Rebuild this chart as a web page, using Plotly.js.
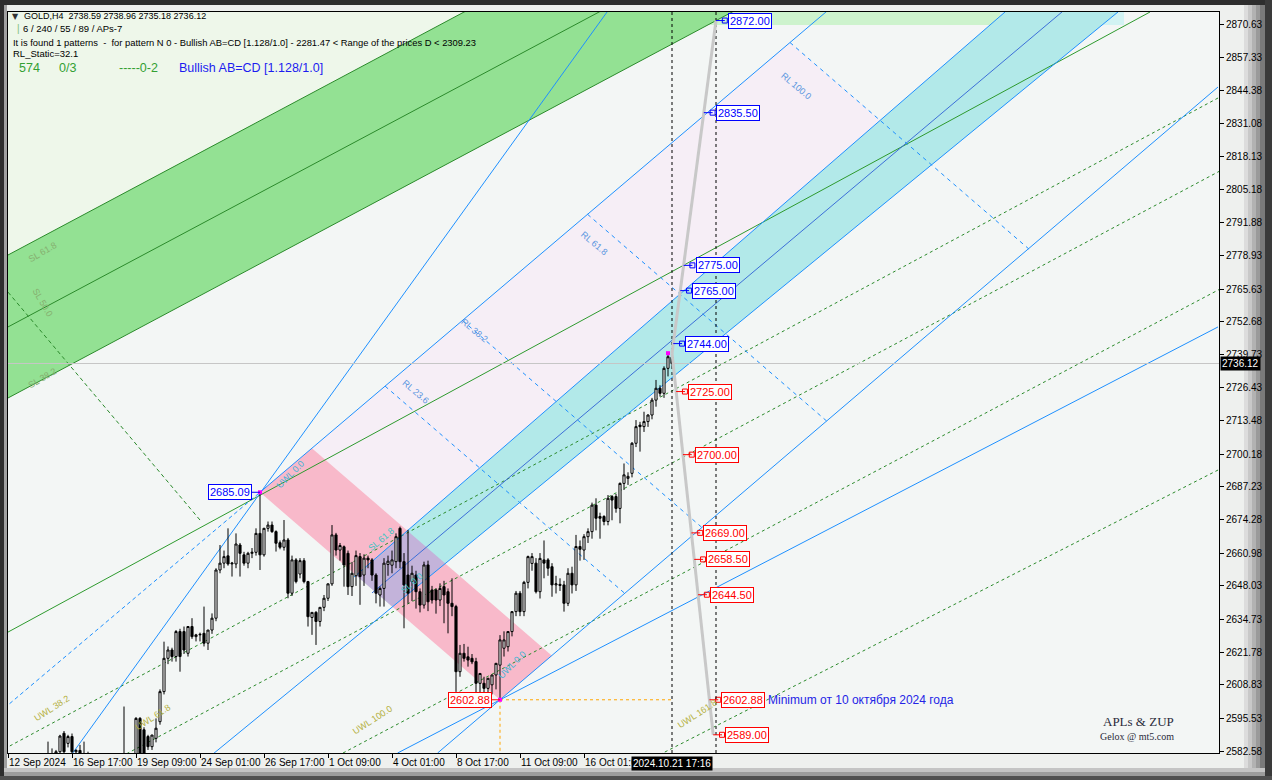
<!DOCTYPE html>
<html><head><meta charset="utf-8">
<script src="https://cdn.plot.ly/plotly-3.0.1.min.js"></script>
<style>html,body{margin:0;padding:0;background:#e9ebe9;overflow:hidden}#chart{width:1272px;height:780px}</style>
</head><body><div id="chart"></div>
<script>
// ---------------- DATA ----------------
const openP=[2512,2516,2522,2528,2540,2552,2558,2562,2570,2575,2578,2580,2581.5,2582.3,2589.6,2585.6,2588.3,2582.3,2582.8,2581.5,2580,2578,2570,2572,2568,2570,2575,2572,2576,2574,2560,2568,2578,2595.5,2591,2588.3,2584.3,2587.6,2594.2,2606.1,2619.3,2622.6,2620,2629.9,2629.9,2621.3,2631.9,2627.9,2628.6,2629.2,2625.3,2630.5,2635.2,2654.3,2657,2659.9,2656.7,2656.7,2664.2,2660.3,2657,2660.9,2661.3,2668.8,2660.3,2670.8,2672.1,2669.5,2665.1,2663.3,2666.2,2645.1,2658.3,2652.7,2658,2649.7,2635.5,2637.5,2633.9,2639.5,2643.1,2648.8,2668.2,2662.2,2663.5,2660.9,2647.7,2652,2659.6,2652.3,2659,2658.3,2652.3,2644.4,2647,2656.5,2656.2,2657.6,2670.8,2657.6,2652.3,2649.7,2652.3,2645.7,2640.4,2656.3,2646.4,2646.4,2642.4,2647.7,2645.7,2641.1,2639.8,2614,2621.3,2619.9,2619.3,2618,2609.4,2609.4,2607.4,2608.8,2612.7,2616.6,2623.3,2623.9,2629.9,2637.8,2645.1,2637.8,2649.4,2656.9,2657,2645.7,2658.3,2658.3,2655.6,2648.4,2648.6,2648.4,2641.1,2653,2648.4,2663.6,2662.2,2667.5,2669.5,2680,2675.5,2675.5,2673.5,2683.4,2683.4,2678.7,2688.6,2690.6,2692.6,2704.5,2711.7,2711.1,2713.1,2715.7,2721.6,2726.3,2724.3,2734.2,2738.59];
const highP=[2520,2525,2530,2545,2556,2560,2566,2572,2578,2580,2586.3,2583.6,2583,2589,2590.5,2589,2589.5,2583.3,2585,2586.3,2582.3,2580,2576,2578,2574,2578,2580,2579,2580,2600.2,2572,2580,2596,2596,2592,2589,2589,2595.5,2607,2625.9,2624,2623.5,2630.5,2631,2631.9,2632,2635.2,2629,2629.5,2639.8,2630.5,2637.1,2655,2664.2,2662,2670.8,2657.5,2668.8,2665,2661.5,2661.5,2663,2670.8,2685.09,2671,2673.5,2673.5,2670,2666,2674.1,2667,2660,2659,2659,2659,2650,2637.5,2638,2639.5,2644.4,2649,2672.1,2669,2665,2664,2662,2657.5,2662,2661,2660.5,2660,2659,2653,2647.8,2659,2660,2662,2668.8,2671.5,2661,2670.2,2656,2654,2647,2657.6,2658,2648,2647,2649,2650,2647,2651,2640.5,2624.6,2625,2623.9,2621,2619.5,2613.5,2612,2611.5,2612.7,2617.5,2628.5,2630,2630,2638,2646,2646,2650,2660,2661,2659,2661,2666,2659,2657,2652,2651,2650,2655,2655.6,2668.2,2666,2668.5,2670.8,2681,2682.7,2677,2676,2684,2684,2684.5,2689,2696.5,2693,2705,2713.7,2713,2717,2716,2722.5,2729.6,2727.5,2735,2740.2,2738.96];
const lowP=[2508,2512,2518,2525,2538,2548,2554,2560,2566,2570,2576,2577,2578,2580,2581,2584,2580,2580,2579,2578,2575,2565,2562,2566,2560,2566,2568,2565,2568,2546,2556,2565,2576,2580,2578,2583,2583,2586,2593,2605,2617,2618,2618,2614,2621,2620,2627,2626,2626,2624,2622.6,2629,2634,2653,2655,2656,2651.7,2655,2651.7,2656,2655,2659,2660,2654.3,2659.6,2669.5,2669,2661.6,2662.5,2662,2643.1,2644,2649,2651,2649,2631.9,2628.6,2624.6,2631.9,2638,2642,2648,2660,2658,2647.7,2644.4,2644,2648,2640.5,2648,2655,2650,2641.1,2639.8,2639.8,2652,2653,2655,2655,2631.2,2641,2642,2639,2637.5,2639,2638,2641,2637,2640,2633.2,2629.2,2636,2606,2612,2618,2616,2617,2604,2605.4,2604,2604,2605,2607,2602.88,2620,2622,2628,2636,2636,2636,2647,2654,2645,2643,2651,2652,2643.7,2645,2646,2637.8,2640,2645,2646,2658,2658.3,2665,2666.7,2670,2666.7,2672,2672,2674,2677,2672.8,2686,2688,2691,2703,2701.2,2709,2711,2714,2719,2723,2722.5,2731,2735.18];
const closeP=[2516,2522,2528,2540,2552,2558,2562,2570,2575,2578,2580,2581.5,2582.3,2588.5,2582.3,2588.3,2582.3,2582.8,2581.5,2580,2578,2570,2572,2568,2570,2575,2572,2576,2574,2560,2568,2578,2595.5,2581,2580,2584.3,2588.9,2591.6,2606.1,2619.3,2622.6,2620,2629.9,2620,2622.6,2631.9,2627.9,2628.6,2628.8,2625.3,2630.5,2635.2,2654.3,2657,2659.6,2656.7,2657,2664.6,2660.9,2657,2660.9,2661.3,2668.8,2660.3,2670.8,2672.1,2669.5,2664.9,2663.3,2666.2,2645.1,2658.3,2649.7,2658,2649.7,2635.8,2637.5,2633.9,2639.5,2643.1,2648.8,2668.2,2662.2,2664,2656.3,2647.7,2653,2660,2651.7,2659,2658.3,2652.3,2645.1,2647,2657,2657.8,2658.3,2667.5,2657.6,2648.4,2645.1,2653,2645.7,2640.4,2656.3,2641.7,2642.4,2642.4,2647,2644.4,2641.1,2639.8,2614,2621.3,2619.3,2618.6,2617.9,2609.4,2613.3,2607.4,2611.4,2612.7,2617.3,2626.6,2626.6,2629.9,2637.8,2645.1,2637.8,2649.4,2659.6,2659.6,2645.7,2658.9,2657,2655,2648.4,2648.8,2648.2,2641.1,2653,2648.4,2663.6,2662.5,2667.5,2669.5,2680,2674.8,2674.8,2673.5,2682.7,2682,2678.7,2688.6,2692,2691.4,2704.5,2711.1,2711.1,2713.1,2715.7,2721.6,2726.3,2724.3,2734.2,2738.8,2736.12];

const xTickIdx=[0,16,32,48,64,80,96,112,128,144];
const xTickText=['12 Sep 2024','16 Sep 17:00','19 Sep 09:00','24 Sep 01:00','26 Sep 17:00','1 Oct 09:00','4 Oct 01:00','8 Oct 17:00','11 Oct 09:00','16 Oct 01:00'];
const yTickVals=[2870.63,2857.33,2844.38,2831.08,2818.13,2805.18,2791.88,2778.93,2765.63,2752.68,2739.73,2726.43,2713.48,2700.18,2687.23,2674.28,2660.98,2648.03,2634.73,2621.78,2608.83,2595.53,2582.58];

const nowIdx=166, nowLabel='2024.10.21 17:16';
const targetIdx=177;
const projStart=[166,2740.2];
const projUpEnd=[177,2872.00];
const projDownEnd=[176.3,2589.00];
const levelPrices=[2872.00,2835.50,2775.00,2765.00,2744.00,2725.00,2700.00,2669.00,2658.50,2644.50,2602.88,2589.00];
const pivotHigh=[63,2685.09], pivotLow=[123,2602.88];
const lastHigh=[165,2740.2];
const bidPrice=2736.12;
const rlEnd=[195.5,2863.3];          // RL 100 point on the RL axis
const rlLevels=[23.6,38.2,61.8,100];
const pinkTopLevel=9.8;

// channel / trend lines  [idx0, price0, idx1, price1]
const greenUpper=[0,2779.1,200,2948.0];
const greenMid=[0,2750.6,200,2919.5];
const greenLower=[0,2722.45,200,2891.4];
const greenThin=[0,2629.7,285.5,2875.39];
const greenDashDiag=[0,2764.4,48,2674.1];
const uwlLines=[[0,2584.2,302.5,2841.3],[30.5,2582.2,302.5,2812.0],[84.25,2582.2,302.5,2765.2],[164.25,2582.2,302.5,2693.9]];
const cyanUpper=[86.5,2651.5,249.25,2875.39];
const cyanMid=[91,2645.2,263.5,2875.4];
const cyanLower=[95.5,2638.9,277.5,2875.4];
const blueSteep=[10,2568.2,155,2886.9];
const blueLowA=[97.4,2581.78,302.5,2750.6];
const blueLowB=[107.4,2581.78,302.5,2845.67];
const blueDashLeft=[0,2600.8,63,2685.09];
const topStripGreen=[114.5,248];    // bar range of the light strip along the top edge
const topStripCyan=[248,279];

// ---------------- HELPERS ----------------
const L=8,T=12,W=1211,H=741;
const PX=px=>(px-L)/W, PY=py=>(T+H-py)/H;
function slope(l){return (l[3]-l[1])/(l[2]-l[0]);}
function inter(a,b){const s1=slope(a),s2=slope(b),c1=a[1]-s1*a[0],c2=b[1]-s2*b[0];const x=(c2-c1)/(s1-s2);return [x,s1*x+c1];}
function path(pts){return 'M'+pts.map(p=>p[0]+','+p[1]).join('L')+'Z';}
function poly(pts,color){return {type:'path',xref:'x',yref:'y',path:path(pts),fillcolor:color,line:{width:0},layer:'below'};}
function ln(l,color,dash,width,layer){return {type:'line',xref:'x',yref:'y',x0:l[0],y0:l[1],x1:l[2],y1:l[3],line:{color:color,width:width||1,dash:dash||'solid'},layer:layer||'below'};}
function ext(l,t0,t1){const dx=l[2]-l[0],dy=l[3]-l[1];return [l[0]+dx*t0,l[1]+dy*t0,l[0]+dx*t1,l[1]+dy*t1];}
function prect(x0,y0,x1,y1,c){return {type:'rect',xref:'paper',yref:'paper',x0:PX(x0),x1:PX(x1),y0:PY(y1),y1:PY(y0),fillcolor:c,line:{width:0},layer:'below'};}

// geometry derived from pivots
const AD=[pivotLow[0]-pivotHigh[0],pivotLow[1]-pivotHigh[1]];
const AR=[rlEnd[0]-pivotHigh[0],rlEnd[1]-pivotHigh[1]];
const pinkB=[pivotHigh[0]+AR[0]*pinkTopLevel/100,pivotHigh[1]+AR[1]*pinkTopLevel/100];
const pinkC=[pinkB[0]+AD[0],pinkB[1]+AD[1]];
const pinkLowerLine=[pivotHigh[0],pivotHigh[1],pivotLow[0],pivotLow[1]];
const pinkUpperLine=[pinkB[0],pinkB[1],pinkC[0],pinkC[1]];
const rlAxis=[pivotHigh[0],pivotHigh[1],rlEnd[0],rlEnd[1]];
const rl100Line=[rlEnd[0],rlEnd[1],rlEnd[0]+AD[0],rlEnd[1]+AD[1]];

const cu1=inter(cyanUpper,pinkLowerLine), cu2=inter(cyanUpper,pinkUpperLine);
const cl1=inter(cyanLower,pinkLowerLine), cl2=inter(cyanLower,pinkUpperLine);
const topP=2890;
const cuTop=[cyanUpper[0]+(topP-cyanUpper[1])/slope(cyanUpper),topP];
const clTop=[cyanLower[0]+(topP-cyanLower[1])/slope(cyanLower),topP];
const lavR=inter(rl100Line,cyanUpper);

const shapes=[];
// frame / bevels
shapes.push(prect(0,0,1272,5,'#2e2e2e'));
shapes.push(prect(0,0,4,780,'#2e2e2e'));
shapes.push(prect(4,5,7,770,'#a0a0a0'));
shapes.push(prect(1244,5,1248,770,'#dcdcdc'));
shapes.push(prect(1248,5,1252,770,'#c8c8c8'));
shapes.push(prect(1252,5,1256,770,'#b2b2b2'));
shapes.push(prect(1256,5,1260,770,'#9a9a9a'));
shapes.push(prect(1260,5,1265,780,'#7a7a7a'));
shapes.push(prect(1265,0,1272,780,'#3a3a3a'));
shapes.push(prect(4,768,1265,772,'#c4c4c4'));
shapes.push(prect(4,772,1265,776,'#9c9c9c'));
shapes.push(prect(0,776,1272,780,'#505050'));

// fills
shapes.push(poly([[0,greenUpper[1]],[0,2900],[greenUpper[0]+(2900-greenUpper[1])/slope(greenUpper),2900]],'#eef7ea'));
shapes.push(poly([pinkB,rlEnd,lavR,cu2],'#f6eef6'));
shapes.push(poly([[greenUpper[0],greenUpper[1]],[greenUpper[2],greenUpper[3]],[greenLower[2],greenLower[3]],[greenLower[0],greenLower[1]]],'#93e193'));
shapes.push(poly([pivotHigh,pinkB,pinkC,pivotLow],'#f8b9ca'));
shapes.push(poly([cu1,cuTop,clTop,cl1],'#b2e9e9'));
shapes.push(poly([cu1,cu2,cl2,cl1],'#c3b3da'));
// light strips along the top edge
shapes.push({type:'rect',xref:'x',yref:'paper',x0:topStripGreen[0],x1:topStripGreen[1],y0:PY(25),y1:1,fillcolor:'#cdf3cd',line:{width:0},layer:'below'});
shapes.push({type:'rect',xref:'x',yref:'paper',x0:topStripCyan[0],x1:topStripCyan[1],y0:PY(25),y1:1,fillcolor:'#d2f3f3',line:{width:0},layer:'below'});

// lines
[greenUpper,greenMid,greenLower].forEach(l=>shapes.push(ln(l,'#2b8a2b')));
shapes.push(ln(greenThin,'#2e9a2e'));
shapes.push(ln(greenDashDiag,'#2b8a2b','4px,3px'));
uwlLines.forEach(l=>shapes.push(ln(ext(l,-0.3,1.05),'#2b8a2b','3px,3px')));
shapes.push(ln(cyanUpper,'#1e90ff'));
shapes.push(ln(cyanMid,'#3c6fd8'));
shapes.push(ln(ext(cyanLower,-0.35,1),'#1e90ff'));
shapes.push(ln(blueSteep,'#1e90ff'));
shapes.push(ln(blueLowA,'#1e90ff'));
shapes.push(ln(blueLowB,'#1e90ff'));
shapes.push(ln(ext(rlAxis,0,1.12),'#1e90ff'));
shapes.push(ln(ext(blueDashLeft,-0.1,1),'#1e90ff','4px,3px'));
rlLevels.forEach(lv=>{const s=[pivotHigh[0]+AR[0]*lv/100,pivotHigh[1]+AR[1]*lv/100];shapes.push(ln([s[0],s[1],s[0]+AD[0],s[1]+AD[1]],'#1e90ff','4px,4px'));});
// bid line
shapes.push(ln([-5,bidPrice,310,bidPrice],'#c6c6c6','solid',1));
// orange low markers
shapes.push(ln([pivotLow[0],pivotLow[1],nowIdx,pivotLow[1]],'#ffa500','3px,3px'));
shapes.push(ln([pivotLow[0],pivotLow[1],pivotLow[0],2570],'#ffa500','3px,3px'));
// vertical dashed lines
[nowIdx,targetIdx].forEach(ix=>shapes.push({type:'line',xref:'x',yref:'paper',x0:ix,x1:ix,y0:0,y1:1,line:{color:'#000',width:1,dash:'3px,3px'},layer:'above'}));
// projection
shapes.push(ln([projStart[0],projStart[1],projUpEnd[0],projUpEnd[1]],'#c8c8c8','solid',3,'above'));
shapes.push(ln([projStart[0],projStart[1],projDownEnd[0],projDownEnd[1]],'#c8c8c8','solid',3,'above'));

// level labels
const annotations=[];
const markX=[],markY=[],markC=[];
const lastClose=closeP[closeP.length-1];
levelPrices.forEach(p=>{
  const seg=p>=projStart[1]?[projStart[0],projStart[1],projUpEnd[0],projUpEnd[1]]:[projStart[0],projStart[1],projDownEnd[0],projDownEnd[1]];
  const xg=seg[0]+(p-seg[1])*(seg[2]-seg[0])/(seg[3]-seg[1]);
  const c=p>lastClose?'#0000ff':'#ff0000';
  shapes.push(ln([xg,p,xg+2.2,p],c,'solid',1,'above'));
  markX.push(xg+2.2);markY.push(p);markC.push(c);
  annotations.push({x:xg+3,y:p,xref:'x',yref:'y',xanchor:'left',yanchor:'middle',showarrow:false,text:p.toFixed(2),font:{family:'Liberation Sans, Arial',size:11,color:c},bgcolor:'#ffffff',bordercolor:c,borderwidth:1,borderpad:1});
});
// pivot labels
[[pivotHigh,'#0000ff'],[pivotLow,'#ff0000']].forEach(([pv,c])=>{
  shapes.push(ln([pv[0]-2,pv[1],pv[0],pv[1]],c,'solid',1,'above'));
  annotations.push({x:pv[0]-2,y:pv[1],xref:'x',yref:'y',xanchor:'right',yanchor:'middle',showarrow:false,text:pv[1].toFixed(2),font:{family:'Liberation Sans, Arial',size:11,color:c},bgcolor:'#ffffff',bordercolor:c,borderwidth:1,borderpad:1});
});
annotations.push({x:targetIdx+12.5,y:pivotLow[1],xref:'x',yref:'y',xanchor:'left',yanchor:'middle',showarrow:false,text:'Minimum от 10 октября 2024 года',font:{family:'Liberation Sans, Arial',size:12,color:'#2424e6'}});
// time / bid boxes
annotations.push({x:nowIdx,y:0,xref:'x',yref:'paper',xanchor:'center',yanchor:'top',yshift:-3,showarrow:false,text:nowLabel,font:{family:'Liberation Sans, Arial',size:10,color:'#fff'},bgcolor:'#000',borderpad:1});
annotations.push({x:1,y:bidPrice,xref:'paper',yref:'y',xanchor:'left',yanchor:'middle',xshift:1,showarrow:false,text:bidPrice.toFixed(2),font:{family:'Liberation Sans, Arial',size:10,color:'#fff'},bgcolor:'#000',borderpad:1});

// header texts
function txt(t,x,y,size,color,fam,extra){annotations.push(Object.assign({x:PX(x),y:PY(y),xref:'paper',yref:'paper',xanchor:'left',yanchor:'middle',showarrow:false,text:t,font:{family:fam||'Liberation Sans, Arial',size:size,color:color}},extra||{}));}
const S='\u00a0';
txt('▼',10,16,8,'#333','DejaVu Sans');
txt('GOLD,H4'+S+S+'2738.59 2738.96 2735.18 2736.12',22,16,9,'#000');
txt('|',15,29,10,'#7cc07c');
txt('6 / 240 / 55 / 89 / APs-7',21,29,9.5,'#000');
txt('It is found 1 patterns'+S+S+'-'+S+S+'for pattern N 0 - Bullish AB=CD [1.128/1.0] - 2281.47 &lt; Range of the prices D &lt; 2309.23',11,42,9.4,'#000');
txt('RL_Static=32.1',11,54,9.5,'#000');
txt('574',17,68,12.5,'#33a033');
txt('0/3',57,68,12.5,'#33a033');
txt('-----0-2',117,68,12.5,'#33a033');
txt('Bullish AB=CD [1.128/1.0]',177,68,12.5,'#1c1cf0');
// small line tags
const tagFont='Liberation Sans, Arial';
[['UWL 0.0',272,474,-45,'#3fb3d6'],['UWL 0.0',512,684,-45,'#3fb3d6'],['UWL 38.2',30,726,-33,'#b4b040'],['UWL 61.8',131,735,-33,'#b4b040'],['UWL 100.0',348,739,-33,'#b4b040'],['UWL 161.8',697,733,-33,'#b4b040'],
 ['RL 23.6',398,392,40,'#5a96e0'],['RL 38.2',474,330,40,'#5a96e0'],['RL 61.8',594,226,40,'#5a96e0'],['RL 100.0',796,68,40,'#5a96e0'],
 ['SL 61.8',24,237,-30,'#86b070'],['SL 50.0',28,303,60,'#86b070'],['SL 38.2',24,378,-30,'#86b070'],['SL 61.8',364,556,-40,'#40c4c4'],['SL 0.0',412,598,-40,'#40c4c4']
].forEach(a=>annotations.push({x:PX(a[1]),y:PY(a[2]),xref:'paper',yref:'paper',showarrow:false,text:a[0],textangle:a[3],font:{family:tagFont,size:9,color:a[4]}}));
annotations.push({x:PX(1176),y:PY(731),xref:'paper',yref:'paper',showarrow:false,text:'APLs &amp; ZUP',font:{family:'Liberation Serif, serif',size:13,color:'#2a2a3a'}});
annotations.push({x:PX(1176),y:PY(744),xref:'paper',yref:'paper',showarrow:false,text:'Gelox @ mt5.com',font:{family:'Liberation Serif, serif',size:10,color:'#2a2a3a'}});

const idx=openP.map((_,i)=>i);
const traces=[
 {type:'candlestick',x:idx,open:openP,high:highP,low:lowP,close:closeP,whiskerwidth:0,hoverinfo:'skip',
  increasing:{line:{color:'#000',width:1},fillcolor:'#ffffff'},decreasing:{line:{color:'#000',width:1},fillcolor:'#000000'}},
 {type:'scatter',mode:'markers',x:markX,y:markY,hoverinfo:'skip',marker:{symbol:'square-open',size:5,color:markC,line:{width:1,color:markC}}},
 {type:'scatter',mode:'markers',x:[pivotHigh[0],pivotLow[0],lastHigh[0]],y:[pivotHigh[1],pivotLow[1],lastHigh[1]],hoverinfo:'skip',marker:{symbol:'square',size:4,color:'#ff00ff'}}
];
const layout={
 width:1272,height:780,margin:{l:L,r:1272-L-W,t:T,b:780-T-H},
 paper_bgcolor:'#eef0ee',plot_bgcolor:'#f3f6f5',showlegend:false,hovermode:false,boxgap:0.25,
 font:{family:'Liberation Sans, Arial',size:10,color:'#000'},
 xaxis:{type:'linear',range:[0,W/4],tickvals:xTickIdx,ticktext:xTickText,ticks:'outside',ticklen:4,tickcolor:'#000',ticklabelposition:'outside right',tickangle:0,automargin:false,
   showgrid:false,zeroline:false,showline:true,linecolor:'#000',mirror:true,rangeslider:{visible:false},fixedrange:true,tickfont:{size:10,color:'#000'}},
 yaxis:{side:'right',range:[2870.63+(24-T)/2.524,2582.58-(T+H-751)/2.524],tickvals:yTickVals,ticktext:yTickVals.map(v=>v.toFixed(2)),ticks:'outside',ticklen:4,tickcolor:'#000',automargin:false,
   showgrid:false,zeroline:false,showline:true,linecolor:'#000',mirror:true,fixedrange:true,tickfont:{size:10,color:'#000'}},
 shapes:shapes,annotations:annotations
};
layout.yaxis.range=[layout.yaxis.range[1],layout.yaxis.range[0]];
Plotly.newPlot('chart',traces,layout,{staticPlot:true,displayModeBar:false});
</script></body></html>
